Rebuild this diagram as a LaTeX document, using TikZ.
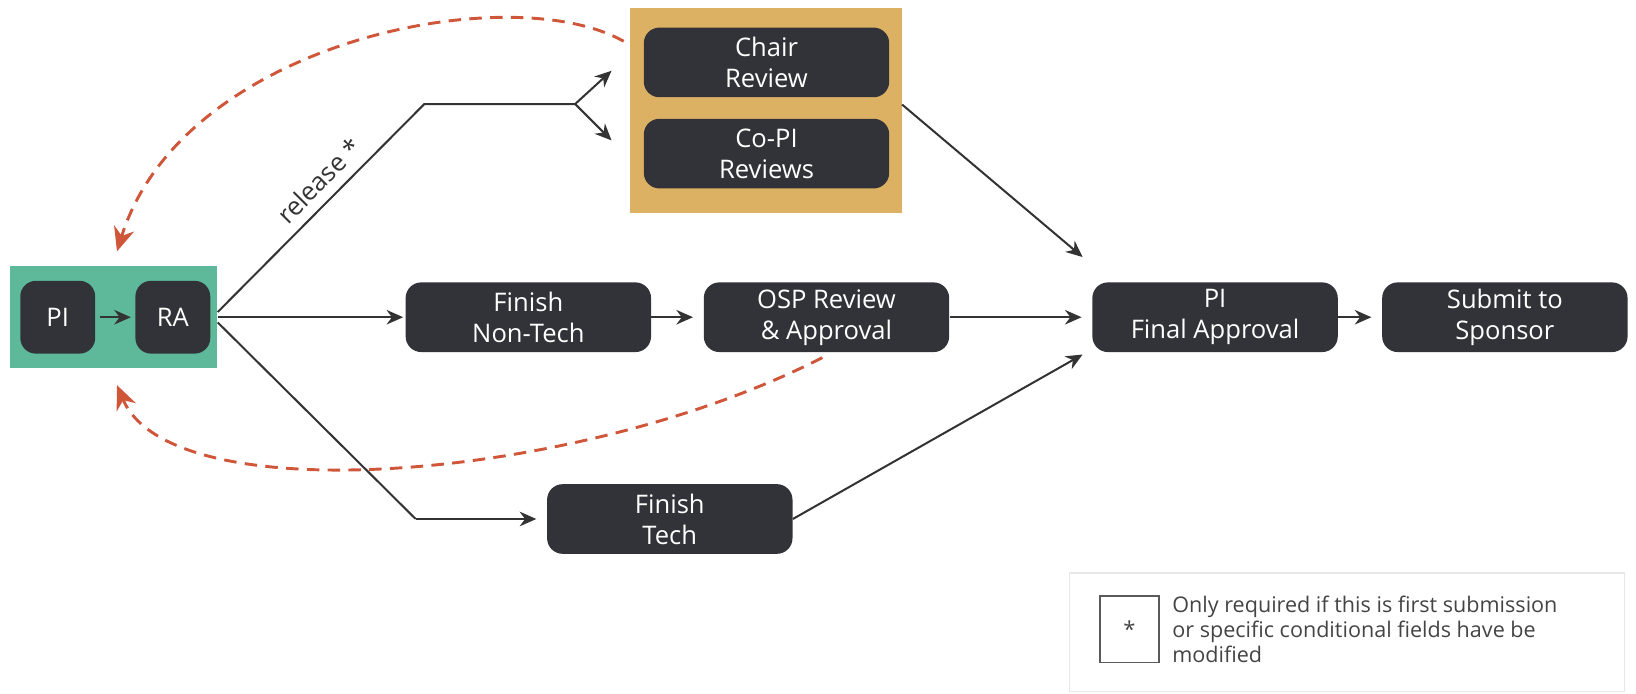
\documentclass[tikz,border=0pt]{standalone}
\usepackage{fontspec}
\setmainfont{Open Sans}
\usetikzlibrary{positioning,calc,arrows.meta}

\definecolor{boxgray}{RGB}{50,51,56}
\definecolor{teamgreen}{RGB}{94,185,155}
\definecolor{reviewgold}{RGB}{221,177,99}
\definecolor{backred}{RGB}{208,86,58}
\definecolor{linegray}{RGB}{51,51,51}
\definecolor{legendgray}{RGB}{232,232,232}
\definecolor{keygray}{RGB}{90,90,90}
\definecolor{notegray}{RGB}{68,68,68}

\tikzset{
	stepbox/.style={rectangle, rounded corners=0.3cm, fill=boxgray, text=white, align=center,
		minimum width=4.72cm, minimum height=1.34cm, font=\fontsize{14}{17}\selectfont},
	smallbox/.style={stepbox, minimum width=1.44cm, minimum height=1.4cm},
	flow/.style={draw=linegray, line width=1.1pt, -{Stealth[length=0.32cm,width=0.28cm]}},
	gap/.style={shorten >=0.2cm},
	sendback/.style={draw=backred, line width=1.6pt, dash pattern=on 0.24cm off 0.16cm,
		-{Stealth[length=0.46cm,width=0.4cm]}},
}

\begin{document}
\begin{tikzpicture}[x=0.02cm, y=-0.02cm]
		\useasboundingbox (0,0) rectangle (1573,667);
		%
		\node[fill=teamgreen, minimum width=3.98cm, minimum height=1.96cm] (team) at (109.5,305) {};
		\node[fill=reviewgold, minimum width=5.22cm, minimum height=3.94cm] (reviews) at (736.5,106.5) {};
		%
		\node[smallbox] (pi) at (55.5,305) {PI};
		\node[smallbox, right=0.76cm of pi] (ra) {RA};
		\node[stepbox] (chair) at (737,60) {Chair\\Review};
		\node[stepbox, below=0.4cm of chair] (copi) {Co-PI\\Reviews};
		\node[stepbox] (nontech) at (508,305) {Finish\\Non-Tech};
		\node[stepbox, right=1cm of nontech] (osp) {OSP Review\\\& Approval};
		\node[stepbox, right=2.74cm of osp] (final) {PI\\Final Approval};
		\node[stepbox, right=0.84cm of final] (submit) {Submit to\\Sponsor};
		\node[stepbox] (tech) at (644,499) {Finish\\Tech};
		%
		\node[draw=legendgray, line width=0.8pt, minimum width=10.68cm, minimum height=2.28cm] (legend) at (1295,608) {};
		\node[draw=keygray, line width=1pt, minimum width=1.12cm, minimum height=1.28cm,
			text=notegray, font=\fontsize{12}{13}\selectfont] (key) at (1086,605) {*};
		\node[right=0.24cm of key, inner sep=0pt, align=left, text=notegray,
			font=\fontsize{11.8}{13.8}\selectfont] (note)
			{Only required if this is first submission\\or specific conditional fields have be\\modified};
		%
		\coordinate (bendup) at (408,100);
		\coordinate (fork) at (553,100);
		\coordinate (forkup) at (588,68);
		\coordinate (forkdown) at (588,135);
		\coordinate (benddown) at ($(tech.west)+(-126,0)$);
		\coordinate (finalabove) at ($(final.north west)+(-9,-24)$);
		\coordinate (finalbelow) at ($(final.south west)+(-9,2)$);
		\coordinate (topback) at ($(reviews.north west)+(-6,32)$);
		\coordinate (teamtop) at ($(team.north)+(3,-14)$);
		\coordinate (ospback) at ($(osp.south)+(-4,5)$);
		\coordinate (teambottom) at ($(team.south)+(3,16)$);
		%
		\draw[flow, shorten <=0.08cm, shorten >=0.08cm] (pi) -- (ra);
		\draw[flow, shorten >=0.04cm] (team.east) -- (nontech);
		\draw[draw=linegray, line width=1.1pt] ($(team.east)+(0,-5)$) -- node[sloped, above=2pt, pos=0.56, text=linegray,
			font=\fontsize{14}{16}\selectfont] {release *} (bendup) -- (fork);
		\draw[flow] (fork) -- (forkup);
		\draw[flow] (fork) -- (forkdown);
		\draw[draw=linegray, line width=1.1pt] ($(team.east)+(0,5)$) -- (benddown);
		\draw[flow, gap] (benddown) -- (tech.west);
		\draw[flow, gap] (nontech) -- (osp);
		\draw[flow, gap] (osp) -- (final);
		\draw[flow, gap] (final) -- (submit);
		\draw[flow] ($(reviews.east)+(0,-6)$) -- (finalabove);
		\draw[flow] (tech.east) -- (finalbelow);
		%
		\draw[sendback] (topback) .. controls (490,-22) and (175,40) .. (teamtop);
		\draw[sendback] (ospback) .. controls (560,462) and (165,495) .. (teambottom);
\end{tikzpicture}
\end{document}
